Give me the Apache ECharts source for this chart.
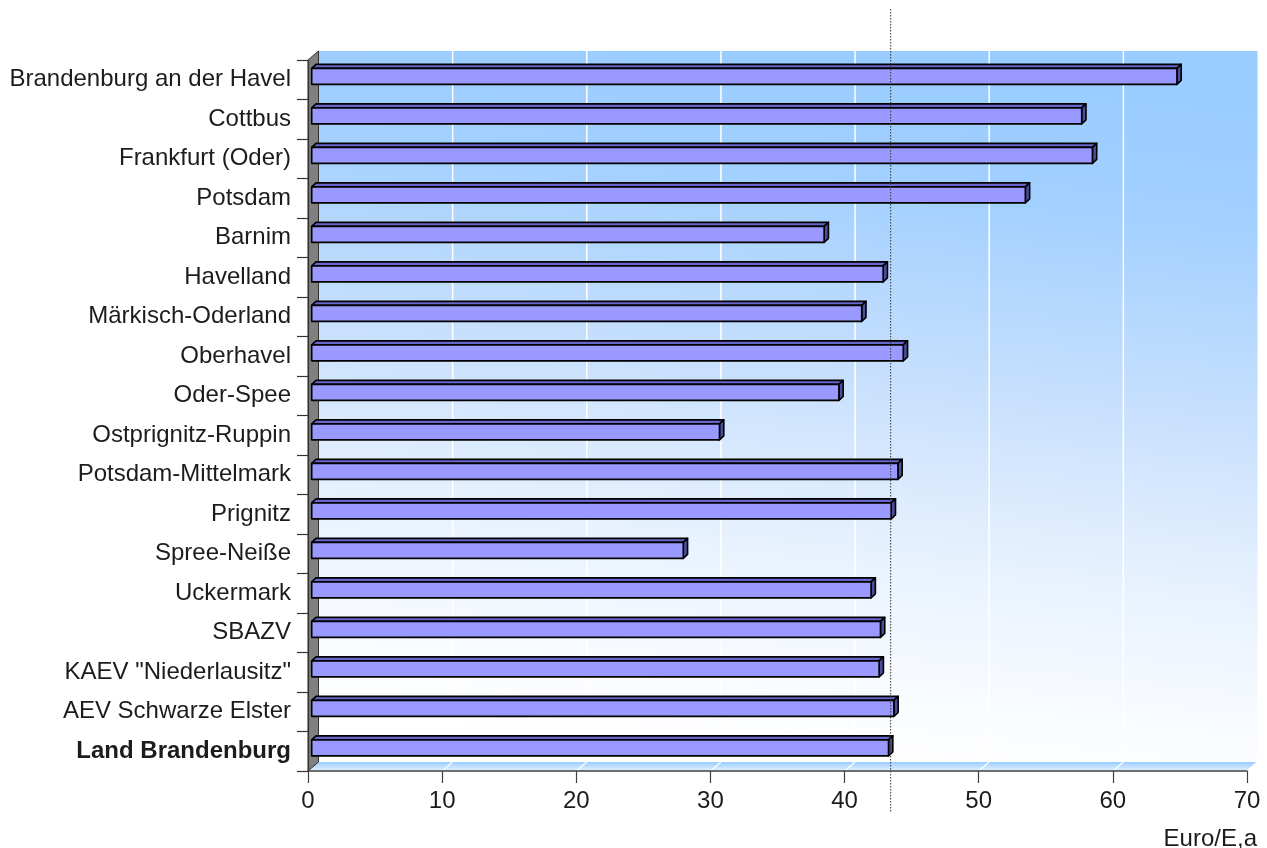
<!DOCTYPE html>
<html>
<head>
<meta charset="utf-8">
<title>Euro/E,a</title>
<script src="https://cdn.jsdelivr.net/npm/echarts@6/dist/echarts.min.js"></script>
<style>
  html, body { margin: 0; padding: 0; background: #ffffff; }
  #chart { width: 1267px; height: 848px; }
</style>
</head>
<body>
<div id="chart"></div>
<script>
// Regions and waste-fee values (Euro per inhabitant and year)
const categories = [
  'Brandenburg an der Havel', 'Cottbus', 'Frankfurt (Oder)', 'Potsdam',
  'Barnim', 'Havelland', 'Märkisch-Oderland', 'Oberhavel', 'Oder-Spee',
  'Ostprignitz-Ruppin', 'Potsdam-Mittelmark', 'Prignitz', 'Spree-Neiße',
  'Uckermark', 'SBAZV', 'KAEV "Niederlausitz"', 'AEV Schwarze Elster',
  'Land Brandenburg'
];
const values = [
  64.5, 57.4, 58.2, 53.2,
  38.2, 42.6, 41.0, 44.1, 39.3,
  30.4, 43.7, 43.2, 27.7,
  41.7, 42.4, 42.3, 43.4,
  43.0
];
const xTicks = [0, 10, 20, 30, 40, 50, 60, 70];
const unitLabel = 'Euro/E,a';
const totalName = 'Land Brandenburg';

const FONT = '"Liberation Sans", Arial, sans-serif';
const TEXT = '#1c1c1c';
const FONT_SIZE = 24;

// 3D box depth (pixels) and bar geometry
const DEPTH_X = 10.5, DEPTH_Y = 9;
const BAR_OFF_X = 3.7, BAR_OFF_Y = 3.4, BAR_H = 16;
const BAR_DX = 4.3, BAR_DY = 4;

const chart = echarts.init(document.getElementById('chart'), null, { renderer: 'canvas' });

// Back wall, side wall, floor and their grid lines
function renderBox(params, api) {
  const cs = params.coordSys;
  const x = cs.x, y = cs.y, w = cs.width, h = cs.height;
  const children = [];
  children.push({
    type: 'rect',
    shape: { x: x + DEPTH_X, y: y - DEPTH_Y, width: w, height: h },
    style: {
      fill: new echarts.graphic.LinearGradient(0.54, 0, 0.46, 1, [
        { offset: 0, color: '#99ccff' },
        { offset: 0.18, color: '#a2d0ff' },
        { offset: 0.44, color: '#c6dffd' },
        { offset: 0.7, color: '#e8f2fe' },
        { offset: 0.9, color: '#fafcff' },
        { offset: 1, color: '#ffffff' }
      ])
    }
  });
  xTicks.forEach(function (t) {
    if (t === xTicks[0] || t === xTicks[xTicks.length - 1]) return;
    const px = api.coord([t, 0])[0];
    children.push({
      type: 'line',
      shape: { x1: px + DEPTH_X, y1: y - DEPTH_Y, x2: px + DEPTH_X, y2: y + h - DEPTH_Y },
      style: { stroke: '#ffffff', lineWidth: 1.5 }
    });
  });
  children.push({
    type: 'polygon',
    shape: { points: [[x, y + h], [x + w, y + h], [x + w + DEPTH_X, y + h - DEPTH_Y], [x + DEPTH_X, y + h - DEPTH_Y]] },
    style: {
      fill: new echarts.graphic.LinearGradient(0, 0, 0, 1, [
        { offset: 0, color: '#99ccff' },
        { offset: 1, color: '#e6f2ff' }
      ])
    }
  });
  xTicks.forEach(function (t) {
    if (t === xTicks[0]) return;
    const px = api.coord([t, 0])[0];
    children.push({
      type: 'line',
      shape: { x1: px, y1: y + h, x2: px + DEPTH_X, y2: y + h - DEPTH_Y },
      style: { stroke: '#ffffff', lineWidth: 1.2 }
    });
  });
  children.push({
    type: 'polygon',
    shape: { points: [[x, y], [x + DEPTH_X, y - DEPTH_Y], [x + DEPTH_X, y + h - DEPTH_Y], [x, y + h]] },
    style: { fill: '#808080', stroke: '#333333', lineWidth: 1 }
  });
  return { type: 'group', children: children };
}

// One 3D bar: front face, top face and end face
function renderBar(params, api) {
  const v = api.value(0);
  const start = api.coord([0, api.value(1)]);
  const end = api.coord([v, api.value(1)]);
  const x0 = start[0] + BAR_OFF_X;
  const x1 = end[0] + BAR_OFF_X;
  const yc = start[1] - BAR_OFF_Y;
  const yt = yc - BAR_H / 2, yb = yc + BAR_H / 2;
  const stroke = { stroke: '#000000', lineWidth: 1.6, lineJoin: 'round' };
  return {
    type: 'group',
    children: [
      {
        type: 'polygon',
        shape: { points: [[x0, yt], [x0 + BAR_DX, yt - BAR_DY], [x1 + BAR_DX, yt - BAR_DY], [x1, yt]] },
        style: Object.assign({ fill: '#6666cc' }, stroke)
      },
      {
        type: 'polygon',
        shape: { points: [[x1, yt], [x1 + BAR_DX, yt - BAR_DY], [x1 + BAR_DX, yb - BAR_DY], [x1, yb]] },
        style: Object.assign({ fill: '#4d4d99' }, stroke)
      },
      {
        type: 'rect',
        shape: { x: x0, y: yt, width: x1 - x0, height: BAR_H },
        style: Object.assign({ fill: '#9999ff' }, stroke)
      }
    ]
  };
}

// Dotted reference line at the state-wide value
function renderTotalLine(params, api) {
  const cs = params.coordSys;
  const px = api.coord([api.value(0), api.value(1)])[0] + BAR_OFF_X + BAR_DX / 2;
  return {
    type: 'line',
    shape: { x1: px, y1: cs.y - 51, x2: px, y2: cs.y + cs.height + 41 },
    style: { stroke: '#333333', lineWidth: 1, lineDash: [1.5, 1.5] }
  };
}

const totalIndex = categories.indexOf(totalName);

chart.setOption({
  animation: false,
  backgroundColor: '#ffffff',
  textStyle: { fontFamily: FONT },
  grid: { left: 308, right: 20, top: 60, bottom: 77, containLabel: false },
  title: {
    text: unitLabel,
    right: 5,
    top: 822,
    textStyle: { fontFamily: FONT, fontSize: FONT_SIZE, fontWeight: 'normal', color: TEXT }
  },
  xAxis: {
    type: 'value',
    min: xTicks[0],
    max: xTicks[xTicks.length - 1],
    interval: xTicks[1] - xTicks[0],
    z: 10,
    axisLine: { show: true, lineStyle: { color: '#404040', width: 1.5 } },
    axisTick: { show: true, length: 12, lineStyle: { color: '#404040', width: 1.2 } },
    splitLine: { show: false },
    axisLabel: { fontFamily: FONT, fontSize: FONT_SIZE, color: TEXT, margin: 18 }
  },
  yAxis: {
    type: 'category',
    inverse: true,
    data: categories,
    z: 10,
    axisLine: { show: true, lineStyle: { color: '#333333', width: 1.2 } },
    axisTick: { show: true, length: 11, lineStyle: { color: '#333333', width: 1.2 } },
    splitLine: { show: false },
    axisLabel: {
      fontFamily: FONT,
      fontSize: FONT_SIZE,
      color: TEXT,
      margin: 17,
      formatter: function (v) { return v === totalName ? '{b|' + v + '}' : v; },
      rich: { b: { fontFamily: FONT, fontSize: FONT_SIZE, fontWeight: 'bold', color: TEXT } }
    }
  },
  series: [
    {
      type: 'custom',
      name: 'box',
      z: 1,
      clip: false,
      silent: true,
      renderItem: renderBox,
      data: [[0, 0]]
    },
    {
      type: 'custom',
      name: unitLabel,
      z: 3,
      clip: false,
      renderItem: renderBar,
      encode: { x: 0, y: 1 },
      data: values.map(function (v, i) { return [v, i]; })
    },
    {
      type: 'custom',
      name: totalName,
      z: 5,
      clip: false,
      silent: true,
      renderItem: renderTotalLine,
      data: [[values[totalIndex], totalIndex]]
    }
  ]
});
</script>
</body>
</html>
